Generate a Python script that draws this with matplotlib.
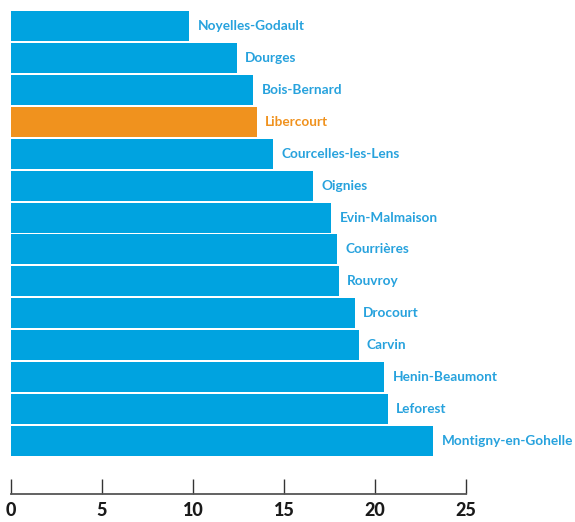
import matplotlib.pyplot as plt

communes = [
    "Noyelles-Godault", "Dourges", "Bois-Bernard", "Libercourt",
    "Courcelles-les-Lens", "Oignies", "Evin-Malmaison", "Courrières",
    "Rouvroy", "Drocourt", "Carvin", "Henin-Beaumont", "Leforest",
    "Montigny-en-Gohelle",
]
values = [9.8, 12.4, 13.3, 13.5, 14.4, 16.6, 17.6, 17.9, 18.0, 18.9,
          19.1, 20.5, 20.7, 23.2]
highlight = "Libercourt"

BLUE = "#00a3e0"
ORANGE = "#f0921e"
LABEL_BLUE = "#27a2dd"

fig = plt.figure(figsize=(5.75, 5.22), dpi=100)
ax = fig.add_axes([11 / 575, 28 / 522, 455 / 575, 484 / 522])

colors = [ORANGE if c == highlight else BLUE for c in communes]
ypos = list(range(len(communes)))
ax.barh(ypos, values, height=0.94, color=colors, linewidth=0)

for y, v, c in zip(ypos, values, communes):
    ax.annotate(
        c, xy=(v, y), xytext=(6, 0), textcoords="offset points",
        va="center", ha="left", fontsize=9.8, fontweight="bold",
        family="Lato", color=ORANGE if c == highlight else LABEL_BLUE,
        annotation_clip=False,
    )

ax.set_xlim(0, 25)
ax.set_ylim(14.66, -0.5)
ax.set_xticks([0, 5, 10, 15, 20, 25])
ax.set_yticks([])
for s in ("top", "right", "left"):
    ax.spines[s].set_visible(False)
ax.spines["bottom"].set_color("#555555")
ax.spines["bottom"].set_linewidth(1.3)
ax.tick_params(axis="x", direction="in", length=11, width=1, color="#333333",
               pad=6, labelsize=13, labelcolor="#1a1a1a")
for lbl in ax.get_xticklabels():
    lbl.set_fontweight("black")
    lbl.set_family("Lato")

fig.savefig("out.png", dpi=100, facecolor="white")
